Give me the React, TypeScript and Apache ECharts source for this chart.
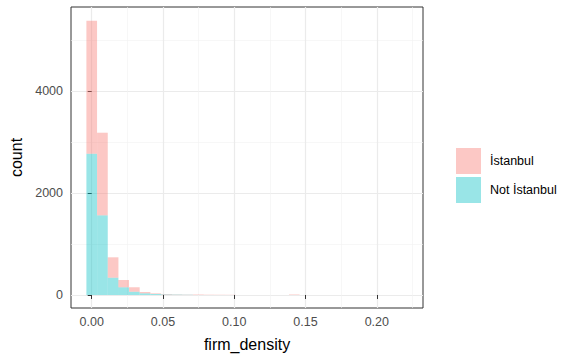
import React, { useEffect, useRef } from "react";
import * as echarts from "echarts";

const binWidth = 0.00748;
const binCenters = [
  0, 0.0075, 0.015, 0.0224, 0.0299, 0.0374, 0.0449, 0.0524, 0.0598, 0.0673,
  0.0748, 0.0823, 0.0898, 0.0972, 0.1047, 0.1122, 0.1197, 0.1272, 0.1346, 0.1421,
];
const notIstanbul = [2770, 1562, 339, 151, 65, 33, 20, 12, 8, 5, 0, 0, 0, 0, 0, 0, 0, 0, 0, 0];
const istanbul = [2608, 1620, 400, 143, 86, 26, 13, 9, 6, 5, 8, 6, 5, 4, 0, 0, 0, 0, 0, 10];
const seriesNames = ["İstanbul", "Not İstanbul"];
const xTicks = [0, 0.05, 0.1, 0.15, 0.2];
const xMinor = [0.025, 0.075, 0.125, 0.175, 0.225];
const yTicks = [0, 2000, 4000];
const yMinor = [1000, 3000, 5000];

const FONT = "'Liberation Sans', Arial, sans-serif";

export default function App() {
  const ref = useRef<HTMLDivElement>(null);
  useEffect(() => {
    document.body.style.margin = "0";
    const chart = echarts.init(ref.current!, null, { renderer: "svg" });

    const baseData = binCenters.map((c, i) => [c - binWidth / 2, c + binWidth / 2, 0, notIstanbul[i]]);
    const topData = binCenters.map((c, i) => [
      c - binWidth / 2,
      c + binWidth / 2,
      notIstanbul[i],
      notIstanbul[i] + istanbul[i],
    ]);

    const renderItem = (params: any, api: any) => {
      const y0 = api.value(2);
      const y1 = api.value(3);
      if (y1 <= y0) return null;
      const p0 = api.coord([api.value(0), y1]);
      const p1 = api.coord([api.value(1), y0]);
      return {
        type: "rect",
        shape: { x: p0[0], y: p0[1], width: p1[0] - p0[0], height: p1[1] - p0[1] },
        style: api.style(),
      };
    };

    const xRange = { min: -0.01454, max: 0.2324 };
    const yRange = { min: -255, max: 5647 };
    const labelStyle = { color: "#4D4D4D", fontSize: 12.5, fontFamily: FONT };

    chart.setOption({
      animation: false,
      grid: {
        left: 71,
        right: 142,
        top: 7,
        bottom: 55,
        show: true,
        borderColor: "#333333",
        borderWidth: 1,
        backgroundColor: "#ffffff",
      },
      legend: {
        data: seriesNames,
        orient: "vertical",
        left: 451,
        top: 143,
        itemWidth: 25,
        itemHeight: 26,
        itemGap: 3,
        icon: "rect",
        textStyle: { color: "#000", fontSize: 12.5, fontFamily: FONT, padding: [0, 0, 0, 4] },
      },
      xAxis: [
        {
          type: "value",
          ...xRange,
          name: "firm_density",
          nameLocation: "middle",
          nameGap: 28,
          nameTextStyle: { color: "#000", fontSize: 16, fontFamily: FONT },
          axisLine: { show: false },
          axisTick: { show: true, length: 4, customValues: xTicks, lineStyle: { color: "#333333" } },
          axisLabel: {
            ...labelStyle,
            margin: 7,
            customValues: xTicks,
            formatter: (v: number) => v.toFixed(2),
          },
          splitLine: { show: true, lineStyle: { color: "#EBEBEB", width: 1.2 } },
        },
        {
          type: "value",
          ...xRange,
          axisLine: { show: false },
          axisTick: { show: false, customValues: xMinor },
          axisLabel: { show: false, customValues: xMinor },
          splitLine: { show: true, lineStyle: { color: "#F2F2F2", width: 0.6 } },
        },
      ],
      yAxis: [
        {
          type: "value",
          ...yRange,
          name: "count",
          nameLocation: "middle",
          nameGap: 45,
          nameRotate: 90,
          nameTextStyle: { color: "#000", fontSize: 16, fontFamily: FONT },
          axisLine: { show: false },
          axisTick: { show: true, length: 4, customValues: yTicks, lineStyle: { color: "#333333" } },
          axisLabel: {
            ...labelStyle,
            margin: 8,
            customValues: yTicks,
            formatter: (v: number) => String(v),
          },
          splitLine: { show: true, lineStyle: { color: "#EBEBEB", width: 1.2 } },
        },
        {
          type: "value",
          ...yRange,
          axisLine: { show: false },
          axisTick: { show: false, customValues: yMinor },
          axisLabel: { show: false, customValues: yMinor },
          splitLine: { show: true, lineStyle: { color: "#F2F2F2", width: 0.6 } },
        },
      ],
      series: [
        {
          name: "Not İstanbul",
          type: "custom",
          xAxisIndex: 0,
          yAxisIndex: 0,
          renderItem,
          encode: { x: [0, 1], y: [2, 3] },
          itemStyle: { color: "rgba(0,191,196,0.4)" },
          data: baseData,
        },
        {
          name: "İstanbul",
          type: "custom",
          xAxisIndex: 0,
          yAxisIndex: 0,
          renderItem,
          encode: { x: [0, 1], y: [2, 3] },
          itemStyle: { color: "rgba(248,118,109,0.4)" },
          data: topData,
        },
      ],
    });
    return () => chart.dispose();
  }, []);
  return <div ref={ref} style={{ width: 565, height: 363 }} />;
}
